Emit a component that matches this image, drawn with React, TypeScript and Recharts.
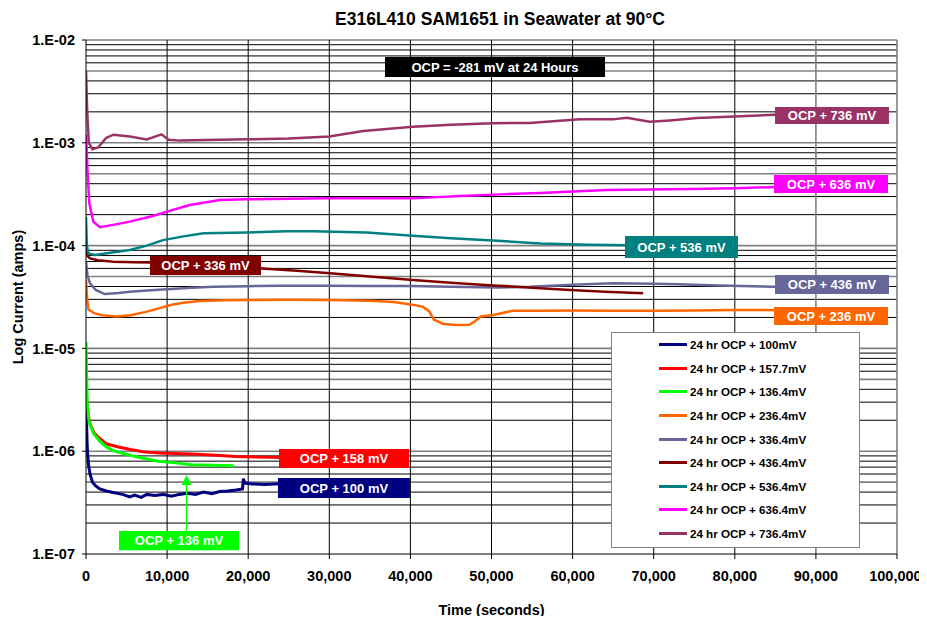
import React from 'react';
import { LineChart, Line, XAxis, YAxis, ReferenceLine, ReferenceArea, Legend, Label } from 'recharts';

const FONT = '"Liberation Sans", Arial, Helvetica, sans-serif';

// [time (s), current (A)]
const ocp100: [number, number][] = [
  [0, 3.0e-6], [150, 1.1e-6], [300, 7.5e-7], [490, 6.0e-7], [800, 5.0e-7], [1200, 4.6e-7],
  [1700, 4.3e-7], [2500, 4.1e-7], [3500, 3.95e-7], [4500, 3.8e-7], [5400, 3.6e-7], [6000, 3.75e-7],
  [6800, 3.55e-7], [7500, 3.8e-7], [8500, 3.7e-7], [9500, 3.8e-7], [10500, 3.65e-7], [11500, 3.8e-7],
  [12500, 3.9e-7], [13500, 3.8e-7], [14500, 4.0e-7], [15500, 3.85e-7], [16500, 4.05e-7], [17500, 4.1e-7],
  [18500, 4.2e-7], [19300, 4.3e-7], [19400, 5.4e-7], [19600, 4.9e-7], [20500, 4.8e-7], [22000, 4.75e-7],
  [24500, 4.85e-7],
];
const ocp158: [number, number][] = [
  [0, 4.5e-6], [100, 3.0e-6], [250, 2.3e-6], [500, 1.85e-6], [1000, 1.5e-6], [1700, 1.33e-6],
  [2500, 1.18e-6], [4000, 1.1e-6], [5500, 1.04e-6], [7000, 9.9e-7], [9000, 9.6e-7], [11000, 9.5e-7],
  [13000, 9.4e-7], [15500, 9.2e-7], [18500, 8.9e-7], [21000, 8.8e-7], [24500, 8.7e-7],
];
const ocp136: [number, number][] = [
  [0, 1.15e-5], [80, 5.0e-6], [160, 2.8e-6], [400, 1.9e-6], [900, 1.5e-6], [1700, 1.25e-6],
  [2500, 1.1e-6], [3500, 1.0e-6], [4600, 9.5e-7], [6000, 8.9e-7], [7500, 8.4e-7], [9000, 8.0e-7],
  [11000, 7.7e-7], [13000, 7.4e-7], [15500, 7.3e-7], [18200, 7.2e-7],
];
const ocp236: [number, number][] = [
  [0, 4.6e-5], [150, 3.0e-5], [300, 2.4e-5], [1000, 2.2e-5], [2000, 2.1e-5], [3800, 2.04e-5],
  [5500, 2.1e-5], [7500, 2.28e-5], [9000, 2.45e-5], [10400, 2.64e-5], [12000, 2.78e-5], [14000, 2.89e-5],
  [17000, 2.94e-5], [20000, 2.96e-5], [25000, 2.97e-5], [30000, 2.95e-5], [35000, 2.9e-5], [38000, 2.82e-5],
  [40000, 2.68e-5], [41500, 2.55e-5], [42300, 2.3e-5], [42900, 1.9e-5], [44000, 1.74e-5], [45500, 1.69e-5],
  [47300, 1.7e-5], [48000, 1.85e-5], [48700, 2.04e-5], [50200, 2.11e-5], [52700, 2.33e-5], [56000, 2.32e-5],
  [60000, 2.34e-5], [65000, 2.33e-5], [70000, 2.32e-5], [75000, 2.34e-5], [80000, 2.37e-5], [86400, 2.35e-5],
];
const ocp336: [number, number][] = [
  [0, 7.0e-5], [200, 5.0e-5], [500, 4.3e-5], [1200, 3.7e-5], [2300, 3.38e-5], [4000, 3.45e-5],
  [5400, 3.56e-5], [8000, 3.68e-5], [10000, 3.76e-5], [13000, 3.88e-5], [15700, 3.98e-5], [20000, 4.03e-5],
  [24000, 4.07e-5], [30000, 4.06e-5], [35000, 4.05e-5], [40000, 4.04e-5], [45000, 3.98e-5], [50600, 3.92e-5],
  [54700, 3.98e-5], [60000, 4.15e-5], [65000, 4.3e-5], [70000, 4.25e-5], [73000, 4.2e-5], [78000, 4.1e-5],
  [84700, 3.98e-5], [86400, 3.98e-5],
];
const ocp436: [number, number][] = [
  [0, 1.0e-4], [150, 8.0e-5], [490, 7.5e-5], [1500, 7.2e-5], [3400, 6.97e-5], [6000, 6.9e-5],
  [8000, 6.85e-5], [12000, 6.6e-5], [17000, 6.3e-5], [21700, 6.0e-5], [26000, 5.7e-5], [30100, 5.37e-5],
  [35000, 5.0e-5], [40300, 4.62e-5], [45000, 4.35e-5], [50200, 4.1e-5], [55000, 3.9e-5], [59700, 3.7e-5],
  [64000, 3.55e-5], [68700, 3.43e-5],
];
const ocp536: [number, number][] = [
  [0, 1.9e-4], [100, 1.0e-4], [300, 8.4e-5], [1100, 8.1e-5], [3000, 8.5e-5], [5400, 9.06e-5],
  [7500, 1.0e-4], [9500, 1.13e-4], [12000, 1.23e-4], [14500, 1.32e-4], [19800, 1.34e-4], [24700, 1.38e-4],
  [28000, 1.38e-4], [34600, 1.34e-4], [40300, 1.25e-4], [45000, 1.18e-4], [50200, 1.12e-4], [56000, 1.05e-4],
  [62000, 1.02e-4], [70000, 1.0e-4],
];
const ocp636: [number, number][] = [
  [0, 1.2e-3], [200, 5.0e-4], [410, 2.58e-4], [900, 1.71e-4], [1700, 1.51e-4], [3500, 1.6e-4],
  [5400, 1.71e-4], [8000, 1.92e-4], [10000, 2.14e-4], [12800, 2.48e-4], [16500, 2.78e-4], [19800, 2.82e-4],
  [25000, 2.86e-4], [29700, 2.88e-4], [35000, 2.88e-4], [40300, 2.88e-4], [46100, 3.03e-4], [51000, 3.15e-4],
  [56000, 3.25e-4], [64200, 3.48e-4], [74500, 3.55e-4], [80000, 3.62e-4], [86400, 3.74e-4],
];
const ocp736: [number, number][] = [
  [0, 5.0e-3], [150, 2.0e-3], [350, 1.0e-3], [780, 8.65e-4], [1500, 9.0e-4], [2500, 1.12e-3],
  [3400, 1.2e-3], [5400, 1.15e-3], [7500, 1.08e-3], [8500, 1.15e-3], [9300, 1.21e-3], [10200, 1.07e-3],
  [11600, 1.05e-3], [19800, 1.08e-3], [25000, 1.1e-3], [30000, 1.15e-3], [34200, 1.3e-3], [40300, 1.43e-3],
  [45000, 1.5e-3], [50200, 1.55e-3], [54700, 1.56e-3], [60900, 1.69e-3], [65000, 1.69e-3], [66700, 1.75e-3],
  [69500, 1.6e-3], [72000, 1.65e-3], [75300, 1.74e-3], [80000, 1.8e-3], [86400, 1.9e-3],
];

const seriesNames = [
  '24 hr OCP + 100mV', '24 hr OCP + 157.7mV', '24 hr OCP + 136.4mV', '24 hr OCP + 236.4mV',
  '24 hr OCP + 336.4mV', '24 hr OCP + 436.4mV', '24 hr OCP + 536.4mV', '24 hr OCP + 636.4mV',
  '24 hr OCP + 736.4mV',
];
const seriesColors = ['#000080', '#FF0000', '#00FF00', '#FF6600', '#666699', '#800000', '#008080', '#FF00FF', '#993366'];
const seriesWidths = [3, 3, 3, 2.5, 2.5, 2.5, 2.5, 2.5, 2.5];
const seriesValues = [ocp100, ocp158, ocp136, ocp236, ocp336, ocp436, ocp536, ocp636, ocp736];

const xTicks = [0, 10000, 20000, 30000, 40000, 50000, 60000, 70000, 80000, 90000, 100000];
const yTicks = [1e-7, 1e-6, 1e-5, 1e-4, 1e-3, 1e-2];
const decades = [1e-7, 1e-6, 1e-5, 1e-4, 1e-3];
const minorMultipliers = [2, 3, 4, 5, 6, 7, 8, 9];

const boxTexts = [
  'OCP = -281 mV at 24 Hours', 'OCP + 736 mV', 'OCP + 636 mV', 'OCP + 536 mV', 'OCP + 436 mV',
  'OCP + 236 mV', 'OCP + 336 mV', 'OCP + 158 mV', 'OCP + 100 mV', 'OCP + 136 mV',
];
const boxColors = ['#000000', '#993366', '#FF00FF', '#008080', '#666699', '#FF6600', '#800000', '#FF0000', '#000080', '#00FF00'];
// [x1, x2, yLow, yHigh] in data units
const boxExtents: [number, number, number, number][] = [
  [36870, 64000, 4.37e-3, 6.83e-3],
  [84960, 99010, 1.52e-3, 2.23e-3],
  [84830, 98890, 3.25e-4, 4.86e-4],
  [66460, 80390, 7.57e-5, 1.24e-4],
  [84960, 99010, 3.38e-5, 5.18e-5],
  [84830, 98890, 1.69e-5, 2.53e-5],
  [7890, 21580, 5.18e-5, 7.92e-5],
  [23800, 39830, 6.87e-7, 1.05e-6],
  [23670, 39950, 3.5e-7, 5.49e-7],
  [4070, 18870, 1.09e-7, 1.67e-7],
];
const arrowX = 12400;
const arrowFrom = 1.67e-7;
const arrowTo = 5.87e-7;

const SERIES = seriesNames.map((name, i) => ({
  name,
  color: seriesColors[i],
  width: seriesWidths[i],
  data: seriesValues[i].map(([x, y]) => ({ x, y })),
}));

const yFmt = (v: number) => {
  const e = Math.round(Math.log10(v));
  return `1.E-${String(-e).padStart(2, '0')}`;
};
const xFmt = (v: number) => v.toLocaleString('en-US');

const tickStyle = { fill: '#000', fontSize: 14.5, fontWeight: 'bold', fontFamily: FONT };

const ArrowShape = (p: any) => {
  const { x1, y1, x2, y2 } = p;
  return (
    <g>
      <line x1={x1} y1={y1} x2={x2} y2={y2 + 9} stroke="#00FF00" strokeWidth={1.5} />
      <polygon points={`${x2},${y2} ${x2 - 5},${y2 + 10} ${x2 + 5},${y2 + 10}`} fill="#00FF00" />
    </g>
  );
};

const LegendBox = () => (
  <div
    style={{
      width: 249, height: 216, border: '1px solid #808080', background: '#fff', boxSizing: 'border-box',
      fontFamily: FONT, fontWeight: 'bold', fontSize: 11.6, color: '#000',
    }}
  >
    {SERIES.map((s) => (
      <div key={s.name} style={{ display: 'flex', alignItems: 'center', height: 23.6 }}>
        <span style={{ display: 'inline-block', marginLeft: 47, width: 28, height: 3, background: s.color }} />
        <span style={{ marginLeft: 3, whiteSpace: 'nowrap' }}>{s.name}</span>
      </div>
    ))}
  </div>
);

export default function App() {
  const minorLines: { v: number; gray: boolean }[] = [];
  decades.forEach((d) => minorMultipliers.forEach((m) => minorLines.push({ v: m * d, gray: m === 5 })));
  return (
    <div style={{ position: 'relative', width: 911, height: 608, fontFamily: FONT }}>
      <style>{`.recharts-surface{overflow:visible}`}</style>
      <div
        style={{
          position: 'absolute', left: 492, top: 1, transform: 'translateX(-50%)', whiteSpace: 'nowrap',
          fontSize: 17.5, fontWeight: 'bold', color: '#000',
        }}
      >
        E316L410 SAM1651 in Seawater at 90°C
      </div>
      <LineChart width={911} height={608} margin={{ top: 32, right: 22, left: 8, bottom: 22 }}>
        <XAxis
          type="number"
          dataKey="x"
          domain={[0, 100000]}
          ticks={xTicks}
          tickFormatter={xFmt}
          allowDataOverflow
          height={40}
          tick={tickStyle}
          tickSize={5}
          tickMargin={12}
          axisLine={{ stroke: '#000', strokeWidth: 1 }}
          tickLine={{ stroke: '#000' }}
        >
          <Label
            content={(props: any) => {
              const vb = props.viewBox;
              return (
                <text x={vb.x + vb.width / 2} y={607} textAnchor="middle" fontFamily={FONT} fontSize={14.5} fontWeight="bold" fill="#000">
                  Time (seconds)
                </text>
              );
            }}
          />
        </XAxis>
        <YAxis
          type="number"
          scale="log"
          dataKey="y"
          domain={[1e-7, 1e-2]}
          ticks={yTicks}
          tickFormatter={yFmt}
          allowDataOverflow
          width={70}
          tick={tickStyle}
          tickSize={4}
          tickMargin={7}
          axisLine={{ stroke: '#000', strokeWidth: 1 }}
          tickLine={{ stroke: '#000' }}
        >
          <Label
            content={(props: any) => {
              const vb = props.viewBox;
              const cy = vb.y + vb.height / 2;
              return (
                <text x={15} y={cy} transform={`rotate(-90, 15, ${cy})`} textAnchor="middle" fontFamily={FONT} fontSize={14.5} fontWeight="bold" fill="#000">
                  Log Current (amps)
                </text>
              );
            }}
          />
        </YAxis>

        {minorLines.map((g, i) => (
          <ReferenceLine key={`m${i}`} y={g.v} stroke={g.gray ? '#808080' : '#000'} strokeWidth={g.gray ? 1.6 : 1} zIndex={-100} />
        ))}
        {yTicks.slice(1).map((v) => (
          <ReferenceLine key={`d${v}`} y={v} stroke="#808080" strokeWidth={1.6} zIndex={-100} />
        ))}
        {xTicks.slice(1).map((v) => (
          <ReferenceLine key={`v${v}`} x={v} stroke={v >= 90000 ? '#808080' : '#000'} strokeWidth={v >= 90000 ? 1.6 : 1} zIndex={-100} />
        ))}

        {SERIES.map((s) => (
          <Line
            key={s.name}
            data={s.data}
            dataKey="y"
            name={s.name}
            stroke={s.color}
            strokeWidth={s.width}
            dot={false}
            activeDot={false}
            isAnimationActive={false}
            type="linear"
          />
        ))}

        {boxTexts.map((t, i) => (
          <ReferenceArea
            key={t}
            x1={boxExtents[i][0]}
            x2={boxExtents[i][1]}
            y1={boxExtents[i][2]}
            y2={boxExtents[i][3]}
            fill={boxColors[i]}
            fillOpacity={1}
            stroke="none"
            ifOverflow="visible"
            zIndex={1500}
            label={{ value: t, position: 'center', fill: '#fff', fontSize: 13, fontWeight: 'bold', fontFamily: FONT }}
          />
        ))}
        <ReferenceLine
          segment={[{ x: arrowX, y: arrowFrom }, { x: arrowX, y: arrowTo }]}
          shape={ArrowShape}
          ifOverflow="visible"
        />

        <Legend
          layout="vertical"
          align="center"
          verticalAlign="middle"
          content={() => <LegendBox />}
          wrapperStyle={{ left: 603, top: 324, width: 249, height: 216 }}
        />
      </LineChart>
    </div>
  );
}
